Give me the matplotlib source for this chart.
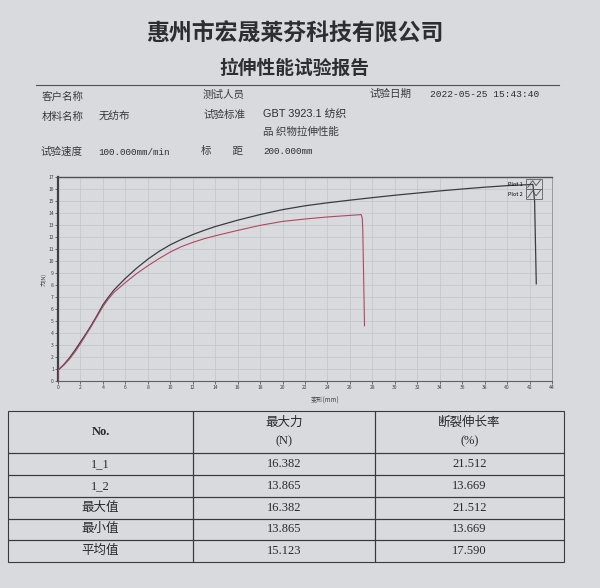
import matplotlib

matplotlib.use("Agg")

import matplotlib.pyplot as plt  # noqa: E402
from matplotlib.legend_handler import HandlerBase  # noqa: E402
from matplotlib.lines import Line2D  # noqa: E402
from matplotlib.patches import Rectangle  # noqa: E402

plt.rcParams["font.family"] = ["Noto Sans CJK SC", "DejaVu Sans"]

W, H = 600, 588
PAPER = "#d9dadd"
INK = "#2e2e32"
SERIF = ["Liberation Serif", "Noto Sans CJK SC"]
MONO = ["Liberation Mono", "Noto Sans CJK SC"]
SANS = ["Liberation Sans", "Noto Sans CJK SC"]

# sample 1_1 (Plot 1): deformation (mm) / force (N)
DISP_1 = [0, 0, 0.5, 1, 1.5, 2, 2.5, 3, 3.5, 4, 4.5, 5, 6, 7, 8, 9, 10, 11,
          12, 13, 14, 16, 18, 20, 22, 24, 26, 28, 30, 32, 34, 36, 38, 40, 42,
          42.3, 42.45, 42.6]
FORCE_1 = [0, 0.9, 1.35, 1.9, 2.55, 3.25, 3.95, 4.7, 5.5, 6.35, 7.0, 7.6,
           8.55, 9.4, 10.15, 10.8, 11.35, 11.8, 12.2, 12.55, 12.87, 13.4,
           13.87, 14.28, 14.6, 14.85, 15.07, 15.28, 15.48, 15.66, 15.84, 16.0,
           16.15, 16.28, 16.37, 16.382, 15.0, 8.1]

# sample 1_2 (Plot 2)
DISP_2 = [0, 0, 0.5, 1, 1.5, 2, 2.5, 3, 3.5, 4, 4.5, 5, 6, 7, 8, 9, 10, 11,
          12, 13, 14, 16, 18, 20, 22, 24, 26, 27, 27.1, 27.15, 27.3]
FORCE_2 = [0, 0.9, 1.3, 1.8, 2.4, 3.1, 3.85, 4.6, 5.4, 6.2, 6.85, 7.4, 8.2,
           8.95, 9.6, 10.2, 10.75, 11.2, 11.55, 11.85, 12.1, 12.55, 12.97,
           13.3, 13.5, 13.67, 13.8, 13.865, 13.6, 12.5, 4.6]

X_TICKS = list(range(0, 45, 2))
Y_TICKS = list(range(0, 18))

HEADER = ["No.", "最大力\n(N)", "断裂伸长率\n(%)"]
SAMPLES = ["1_1", "1_2", "最大值", "最小值", "平均值"]
MAX_FORCE = ["16.382", "13.865", "16.382", "13.865", "15.123"]
ELONGATION = ["21.512", "13.669", "21.512", "13.669", "17.590"]


class BoxIcon(HandlerBase):
    # small framed zigzag, like the tester software legend
    def create_artists(self, legend, orig_handle, xdescent, ydescent,
                       width, height, fontsize, trans):
        x0, y0 = -xdescent, -ydescent
        box = Rectangle((x0, y0 - 0.2 * height), width, 1.4 * height,
                        fill=False, edgecolor="#606064", lw=0.6,
                        transform=trans)
        xs = [x0 + f * width for f in (0.12, 0.42, 0.62, 0.88)]
        ys = [y0 + f * height for f in (0.0, 0.95, 0.25, 1.0)]
        wave = Line2D(xs, ys, color="#505054", lw=0.6, transform=trans)
        return [box, wave]


def put(fig, x, y, s, **kw):
    kw.setdefault("color", INK)
    kw.setdefault("va", "center")
    fig.text(x / W, 1 - y / H, s, **kw)


def frac_box(left, top, right, bottom):
    return [left / W, 1 - bottom / H, (right - left) / W, (bottom - top) / H]


def draw_header(fig):
    put(fig, 295, 33, "惠州市宏晟莱芬科技有限公司", fontsize=16.5,
        fontweight="bold", ha="center")
    put(fig, 294, 68, "拉伸性能试验报告", fontsize=13.5,
        fontweight="bold", ha="center")
    fig.add_artist(Line2D([36 / W, 559 / W], [1 - 85 / H] * 2,
                          transform=fig.transFigure, color="#505054", lw=0.8))

    lab = dict(fontsize=7.6, color="#3a3a3e")
    put(fig, 42, 98, "客户名称", **lab)
    put(fig, 203, 95, "测试人员", **lab)
    put(fig, 369, 94, "试验日期", **lab)
    put(fig, 430, 94, "2022-05-25 15:43:40", fontsize=6.8, family=MONO)
    put(fig, 42, 117, "材料名称", **lab)
    put(fig, 99, 117, "无纺布", **lab)
    put(fig, 203, 115, "试验标准", **lab)
    put(fig, 263, 115, "GBT 3923.1 纺织", fontsize=7.8, family=SANS)
    put(fig, 263, 132, "品 织物拉伸性能", **lab)
    put(fig, 40, 152, "试验速度", **lab)
    put(fig, 98, 152, "100.000mm/min", fontsize=6.7, family=MONO)
    put(fig, 201, 151, "标\u3000\u3000距", **lab)
    put(fig, 263, 151, "200.000mm", fontsize=6.7, family=MONO)


def draw_curves(fig):
    ax = fig.add_axes(frac_box(58, 177, 552, 381))
    ax.set_facecolor(PAPER)
    l1, = ax.plot(DISP_1, FORCE_1, color="#3c3c40", lw=0.9, zorder=3)
    l2, = ax.plot(DISP_2, FORCE_2, color="#b0485f", lw=0.8, zorder=3)

    ax.set_xlim(0, 44)
    ax.set_ylim(0, 17)
    ax.set_xticks(X_TICKS)
    ax.set_yticks(Y_TICKS)
    ax.tick_params(labelsize=3.6, length=2, width=0.5, pad=1,
                   colors="#404044")
    ax.grid(True, color="#c3c4c7", lw=0.5)
    ax.set_axisbelow(True)

    ax.spines["left"].set_linewidth(1.6)
    ax.spines["left"].set_color("#404044")
    ax.spines["top"].set_linewidth(1.0)
    ax.spines["top"].set_color("#505054")
    ax.spines["bottom"].set_linewidth(0.8)
    ax.spines["bottom"].set_color("#606064")
    ax.spines["right"].set_linewidth(0.6)
    ax.spines["right"].set_color("#8e8f92")

    ax.set_ylabel("力(N)", fontsize=4, labelpad=1, color="#404044")
    ax.set_xlabel("变形(mm)", fontsize=4.5, color="#404044")
    ax.xaxis.set_label_coords(0.54, -0.075)

    ax.legend(handles=[l1, l2], labels=["Plot 1", "Plot 2"],
              handler_map={Line2D: BoxIcon()}, markerfirst=False,
              frameon=False, loc="upper right", bbox_to_anchor=(0.985, 0.995),
              fontsize=4, handlelength=3.0, handleheight=1.6,
              labelspacing=0.55, handletextpad=0.6, borderaxespad=0)


def draw_table(fig):
    ax = fig.add_axes(frac_box(8, 411, 564, 562))
    ax.axis("off")
    rows = [[s, f, e] for s, f, e in zip(SAMPLES, MAX_FORCE, ELONGATION)]
    table = ax.table(cellText=rows, colLabels=HEADER, cellLoc="center",
                     colWidths=[0.333, 0.327, 0.34], bbox=[0, 0, 1, 1])
    table.auto_set_font_size(False)
    table.set_fontsize(9)
    for (r, c), cell in table.get_celld().items():
        cell.set_facecolor("none")
        cell.set_edgecolor("#3a3a3e")
        cell.set_linewidth(0.8)
        txt = cell.get_text()
        txt.set_fontfamily(SERIF)
        txt.set_color("#2a2a2e")
        if r == 0:
            cell.set_height(0.28)
            txt.set_linespacing(1.7)
            txt.set_fontweight("bold" if c == 0 else "normal")
        else:
            cell.set_height(0.144)


def main():
    fig = plt.figure(figsize=(W / 100, H / 100), dpi=100)
    fig.patch.set_facecolor(PAPER)
    draw_header(fig)
    draw_curves(fig)
    draw_table(fig)
    fig.savefig("out.png", dpi=100, facecolor=PAPER)
    plt.close(fig)


if __name__ == "__main__":
    main()
